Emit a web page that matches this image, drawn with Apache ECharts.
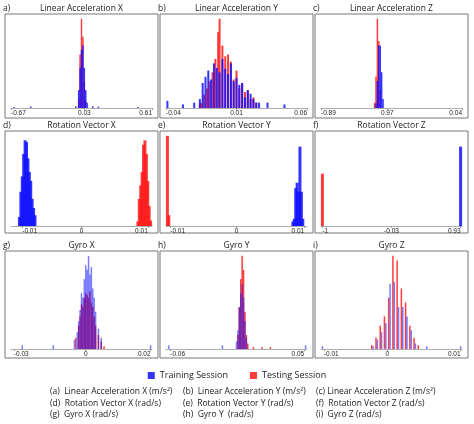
<!DOCTYPE html>
<html>
<head>
<meta charset="utf-8">
<script src="https://cdn.jsdelivr.net/npm/echarts@6/dist/echarts.min.js"></script>
<style>html,body{margin:0;padding:0;background:#fff}#main{width:474px;height:424px}</style>
</head>
<body>
<div id="main"></div>
<script>
// panel titles and letters
const titles = ['Linear Acceleration X', 'Linear Acceleration Y', 'Linear Acceleration Z',
  'Rotation Vector X', 'Rotation Vector Y', 'Rotation Vector Z', 'Gyro X', 'Gyro Y', 'Gyro Z'];
const letters = ['a)', 'b)', 'c)', 'd)', 'e)', 'f)', 'g)', 'h)', 'i)'];

// tick labels: [position on 0..100 axis, label]
const ticks = [
  [[0, '-0.67'], [52, '0.03'], [100, '0.61']],
  [[0, '-0.04'], [50, '0.01'], [100, '0.06']],
  [[0, '-0.89'], [47, '0.97'], [100, '0.04']],
  [[8, '-0.01'], [50, '0'], [97, '0.01']],
  [[3, '-0.01'], [50, '0'], [98, '0.01']],
  [[1, '-1'], [50, '-0.03'], [99, '0.93']],
  [[2, '-0.03'], [53, '0'], [99, '0.02']],
  [[3, '-0.06'], [98, '0.05']],
  [[2, '-0.01'], [47, '0'], [99, '0.01']]
];

// histogram bins: [position, relative count]
const train = [
  [[2,1],[14,1.5],[46,2],[48,20],[49,45],[50,65],[51,70],[52,45],[53,20],[54,6],[58,2],[62,1.5],[90,1]],
  [[1,8],[12,4],[20,6],[24,10],[26,28],[28,35],[30,42],[32,32],[34,50],[36,45],[38,40],[40,55],[42,44],[44,38],[46,50],[48,30],[50,34],[52,26],[54,28],[56,12],[58,20],[60,16],[62,10],[64,6],[66,6],[72,6],[84,4]],
  [[39,5],[40,30],[41,70],[42,70],[43,40],[44,10]],
  [[6,10],[7,38],[8,55],[9,80],[10,95],[11,93],[12,75],[13,60],[14,50],[15,30],[16,20],[17,12]],
  [[90,5],[91,8],[92,42],[93,48],[94,38],[95,88],[96,38],[97,8]],
  [[99,88]],
  [[8,4],[30,4],[45,10],[47,18],[48,30],[49,42],[50,60],[51,55],[52,75],[53,90],[54,85],[55,100],[56,80],[57,88],[58,65],[59,55],[60,40],[62,22],[64,12],[99,4]],
  [[2,4],[40,4],[50,8],[51,20],[52,45],[53,60],[54,70],[55,55],[56,30],[57,12],[99,4]],
  [[1,3],[37,3],[40,10],[43,18],[46,28],[49,70],[52,72],[55,45],[58,45],[61,35],[64,20],[67,6],[75,3],[99,3]]
];
const test = [
  [[48,10],[49,60],[50,100],[51,80],[52,30],[53,8]],
  [[24,4],[25,6],[27,15],[29,22],[31,30],[33,40],[35,55],[37,85],[38,100],[40,70],[42,58],[44,60],[46,52],[48,32],[50,42],[52,22],[54,28],[56,18],[58,20],[60,10],[62,12],[64,6]],
  [[38,6],[39,35],[40,100],[41,75],[42,20]],
  [[90,5],[91,30],[92,45],[93,60],[94,90],[95,95],[96,80],[97,50],[98,22],[99,6]],
  [[1,100],[2,12]],
  [[1,58]],
  [[46,12],[48,25],[49,35],[50,48],[51,45],[52,55],[53,60],[54,58],[55,55],[56,62],[57,50],[58,45],[59,35],[60,25],[62,15],[64,8],[66,3]],
  [[51,15],[52,45],[53,75],[54,100],[55,85],[56,40],[57,15],[58,6],[62,2],[68,2],[74,2]],
  [[36,4],[39,12],[42,25],[45,35],[48,55],[51,100],[54,95],[57,65],[60,50],[63,25],[66,12],[69,4]]
];
const barWidths = [1.5, 2, 1.5, 3, 3, 3, 1.5, 1.5, 1.5];

const captions = [
  ['(a)  Linear Acceleration X (m/s²)', '(d)  Rotation Vector X (rad/s)', '(g)  Gyro X (rad/s)'],
  ['(b)  Linear Acceleration Y (m/s²)', '(e)  Rotation Vector Y (rad/s)', '(h)  Gyro Y  (rad/s)'],
  ['(c) Linear Acceleration Z (m/s²)', '(f)  Rotation Vector Z (rad/s)', '(i)  Gyro Z (rad/s)']
];

const colX = [5, 160, 315], colW = 153;
const rowBox = [[14, 118], [131, 233], [251, 358]];
const rowPlot = [[17, 108], [134, 226], [254, 349]];

const grid = [], xAxis = [], yAxis = [], series = [], graphic = [];
for (let i = 0; i < 9; i++) {
  const r = Math.floor(i / 3), c = i % 3;
  grid.push({ left: colX[c] + 6, width: colW - 12, top: rowPlot[r][0], height: rowPlot[r][1] - rowPlot[r][0] });
  xAxis.push({
    gridIndex: i, type: 'value', min: 0, max: 100,
    splitLine: { show: false },
    axisLine: { lineStyle: { color: '#999', width: 0.8 } },
    axisTick: { customValues: ticks[i].map(t => t[0]), length: 2, lineStyle: { color: '#999' } },
    axisLabel: {
      customValues: ticks[i].map(t => t[0]), fontSize: 6.5, color: '#222', margin: 2,
      alignMinLabel: 'left', alignMaxLabel: 'right',
      formatter: v => (ticks[i].find(t => t[0] === v) || [0, ''])[1]
    }
  });
  yAxis.push({ gridIndex: i, type: 'value', min: 0, max: 102, show: false });
  series.push({
    name: 'Testing Session', type: 'bar', xAxisIndex: i, yAxisIndex: i, data: test[i],
    barWidth: barWidths[i], barGap: '-100%', itemStyle: { color: '#ff1a1a', opacity: 0.85 }
  });
  series.push({
    name: 'Training Session', type: 'bar', xAxisIndex: i, yAxisIndex: i, data: train[i],
    barWidth: barWidths[i], barGap: '-100%', itemStyle: { color: '#1010ff', opacity: i >= 6 ? 0.55 : 0.85 }
  });
  graphic.push({ type: 'rect', shape: { x: colX[c], y: rowBox[r][0], width: colW, height: rowBox[r][1] - rowBox[r][0] },
    style: { fill: null, stroke: '#777', lineWidth: 1 } });
  graphic.push({ type: 'text', x: colX[c] + colW / 2, y: rowBox[r][0] - 1,
    style: { text: titles[i], font: '8.5px "Open Sans"', fill: '#222', textAlign: 'center', textVerticalAlign: 'bottom' } });
  graphic.push({ type: 'text', x: colX[c] - 2, y: rowBox[r][0] - 1,
    style: { text: letters[i], font: '8.5px "Open Sans"', fill: '#222', textVerticalAlign: 'bottom' } });
}
const capX = [50, 183, 316], capY = [392, 404, 415];
captions.forEach((col, c) => col.forEach((t, k) => graphic.push({ type: 'text', x: capX[c], y: capY[k],
  style: { text: t, font: '8.5px "Open Sans"', fill: '#222', textVerticalAlign: 'middle' } })));

const chart = echarts.init(document.getElementById('main'), null, { renderer: 'canvas' });
chart.setOption({
  animation: false,
  grid, xAxis, yAxis, series, graphic,
  legend: {
    data: ['Training Session', 'Testing Session'], top: 366, left: 'center', icon: 'rect',
    itemWidth: 7, itemHeight: 7, itemGap: 22, textStyle: { fontSize: 9, color: '#222', fontFamily: 'Open Sans' }
  }
});
</script>
</body>
</html>
